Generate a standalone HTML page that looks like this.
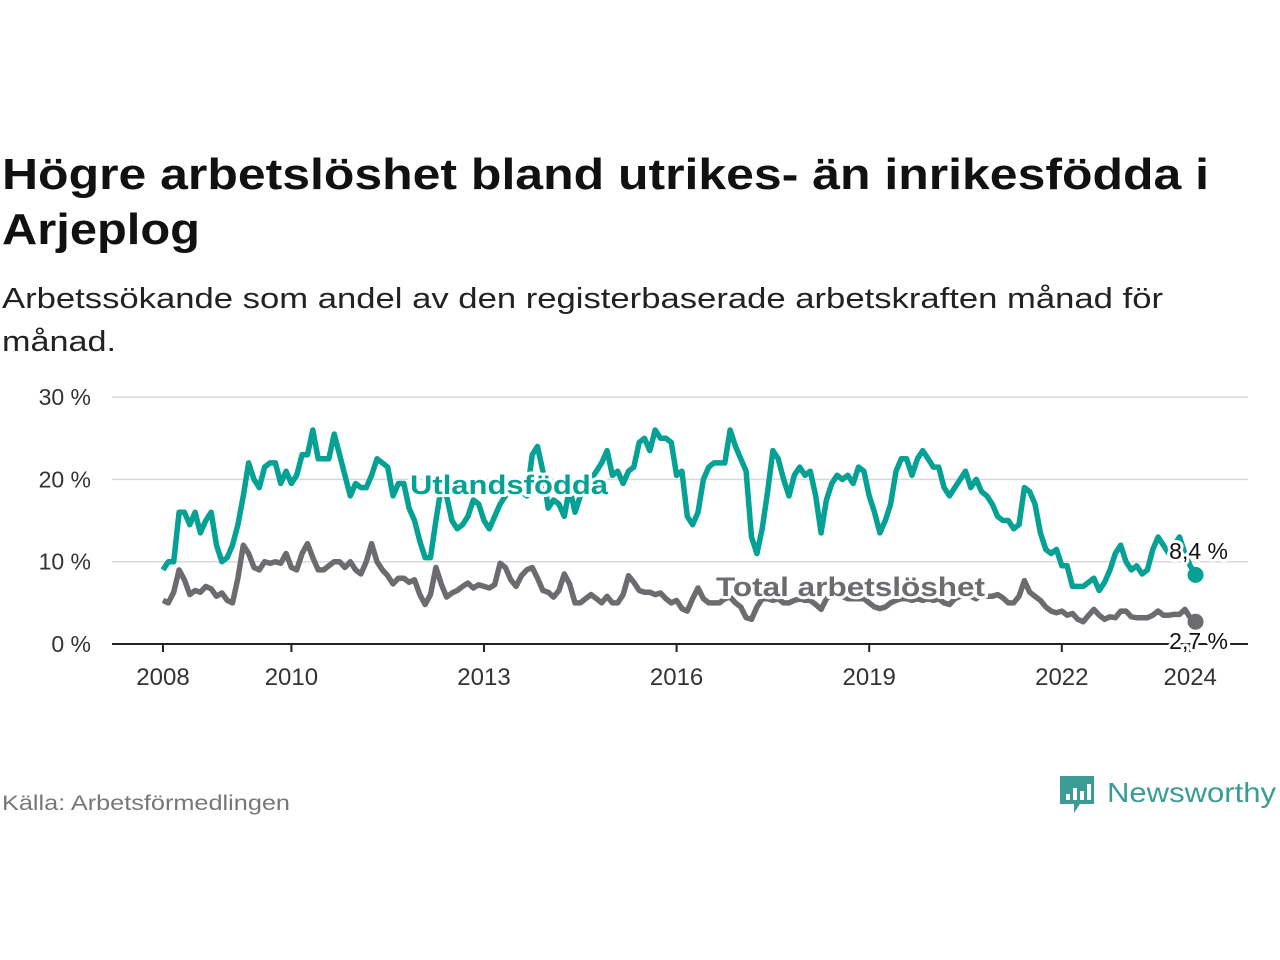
<!DOCTYPE html>
<html><head><meta charset="utf-8"><style>
body{margin:0;background:#fff;}
svg{display:block;font-family:"Liberation Sans","DejaVu Sans",sans-serif;}
</style></head><body>
<svg width="1280" height="960" viewBox="0 0 1280 960">
<text x="2" y="189" font-size="44" font-weight="bold" fill="#111" textLength="1207" lengthAdjust="spacingAndGlyphs">Högre arbetslöshet bland utrikes- än inrikesfödda i</text>
<text x="2" y="244" font-size="44" font-weight="bold" fill="#111" textLength="198" lengthAdjust="spacingAndGlyphs">Arjeplog</text>
<text x="2" y="308" font-size="29" fill="#222" textLength="1161" lengthAdjust="spacingAndGlyphs">Arbetssökande som andel av den registerbaserade arbetskraften månad för</text>
<text x="2" y="351" font-size="29" fill="#222" textLength="114" lengthAdjust="spacingAndGlyphs">månad.</text>
<g id="grid"></g>
<g id="yticks"></g>
<g id="xticks"></g>
<g id="series"></g>
<text x="2" y="810" font-size="21" fill="#777" textLength="288" lengthAdjust="spacingAndGlyphs">Källa: Arbetsförmedlingen</text>
<g>
<path d="M1060 776 h34 v28 h-14 l-6 9 v-9 h-14 z" fill="#3a9c94"/>
<rect x="1066" y="794" width="4" height="6" fill="#fff"/><rect x="1073" y="788" width="4" height="12" fill="#fff"/><rect x="1080" y="791" width="4" height="9" fill="#fff"/><rect x="1087" y="784" width="4" height="16" fill="#fff"/>
<text x="1107" y="802" font-size="28" fill="#3a9c94" textLength="169" lengthAdjust="spacingAndGlyphs">Newsworthy</text>
</g>
</svg>
<script>
const yTicks=[0,10,20,30];
const yTickLabels=["0 %","10 %","20 %","30 %"];
const xTicks=[2008,2010,2013,2016,2019,2022,2024];
const startYear=2008;
const foreign=[9,10,10,16,16,14.5,16,13.5,15,16,12,10,
10.5,12,14.5,18,22,20,19,21.5,22,22,19.5,21,
19.5,20.5,23,23,26,22.5,22.5,22.5,25.5,23,20.5,18,
19.5,19,19,20.5,22.5,22,21.5,18,19.5,19.5,16.5,15,
12.5,10.5,10.5,15,19,18,15,14,14.5,15.5,17.5,17,
15,14,15.5,17,18,19.5,19,18.5,18,23,24,21,
16.5,17.5,17,15.5,19,16,18,18.5,20,21,22,23.5,
20.5,21,19.5,21,21.5,24.5,25,23.5,26,25,25,24.5,
20.5,21,15.5,14.5,16,20,21.5,22,22,22,26,24,
22.5,21,13,11,14,18.5,23.5,22.5,20,18,20.5,21.5,
20.5,21,18,13.5,17.5,19.5,20.5,20,20.5,19.5,21.5,21,
18,16,13.5,15,17,21,22.5,22.5,20.5,22.5,23.5,22.5,
21.5,21.5,19,18,19,20,21,19,20,18.5,18,17,
15.5,15,15,14,14.5,19,18.5,17,13.5,11.5,11,11.5,
9.5,9.5,7,7,7,7.5,8,6.5,7.5,9,11,12,
10,9,9.5,8.5,9,11.5,13,12,11,12,13,11,
9.5,8.4];
const total=[5.3,5,6.3,9,7.8,6,6.5,6.3,7,6.7,5.8,6.2,
5.3,5,8,12,11,9.3,9,10,9.8,10,9.8,11,
9.3,9,11,12.2,10.5,9,9,9.5,10,10,9.3,10,
9,8.5,10,12.2,10,9,8.3,7.3,8,8,7.5,7.8,
6,4.8,6,9.3,7.3,5.7,6.2,6.5,7,7.4,6.8,7.2,
7,6.8,7.2,9.8,9.3,7.8,7,8.3,9,9.3,8,6.5,
6.3,5.7,6.5,8.5,7.3,5,5,5.5,6,5.5,5,5.8,
5,5,6,8.3,7.5,6.5,6.3,6.3,6,6.2,5.5,5,
5.3,4.3,4,5.5,6.8,5.5,5,5,5,5.5,5.7,5,
4.5,3.2,3,4.5,5.5,5.5,5.3,5.5,5,5,5.3,5.5,
5.3,5.3,4.8,4.2,5.5,6,6,5.8,5.5,5.5,5.5,5.5,
5,4.5,4.3,4.5,5,5.3,5.5,5.5,5.3,5.5,5.3,5.5,
5.3,5.5,5,4.8,5.5,5.8,6,5.8,5.5,6,5.8,5.8,
6,5.6,5,5,5.8,7.7,6.3,5.8,5.3,4.5,4,3.8,
4,3.5,3.7,3,2.7,3.5,4.2,3.5,3,3.3,3.2,4,
4,3.3,3.2,3.2,3.2,3.5,4,3.5,3.5,3.6,3.6,4.2,
3.2,2.7];
const NS="http://www.w3.org/2000/svg";
const X=t=>163+(t-startYear)*64.2;
const Y=v=>644-v*8.23;
const mk=(tag,attrs,parent)=>{const e=document.createElementNS(NS,tag);for(const k in attrs)e.setAttribute(k,attrs[k]);parent.appendChild(e);return e;};
const grid=document.getElementById('grid'),yt=document.getElementById('yticks'),xt=document.getElementById('xticks'),sg=document.getElementById('series');
yTicks.forEach((v,i)=>{
 if(v>0){const l=mk('line',{x1:112,x2:1248,y1:Y(v),y2:Y(v),stroke:'#d9d9d9','stroke-width':1.5},grid);
 
 }
 const t=mk('text',{x:91,y:Y(v)+8,'font-size':23,fill:'#333','text-anchor':'end'},yt);t.textContent=yTickLabels[i];
 
 
});
const ax=mk('line',{x1:112,x2:1248,y1:644,y2:644,stroke:'#222','stroke-width':2},xt);


xTicks.forEach(y=>{
 const tk=mk('line',{x1:X(y),x2:X(y),y1:644,y2:652,stroke:'#222','stroke-width':2},xt);
 
 
 const t=mk('text',{x:X(y),y:685,'font-size':24,fill:'#333','text-anchor':'middle'},xt);t.textContent=y;
 
 
});
function draw(arr,color,name){
 const d=arr.map((v,i)=>(i?'L':'M')+X(startYear+i/12).toFixed(1)+' '+Y(v).toFixed(1)).join(' ');
 const p=mk('path',{d:d,fill:'none',stroke:color,'stroke-width':5.5,'stroke-linejoin':'round'},sg);
 
 
 const n=arr.length-1;
 const c=mk('circle',{cx:X(startYear+n/12),cy:Y(arr[n]),r:8,fill:color},sg);
 
 
 return n;
}
const n1=draw(total,'#6d6b70','total');
const n2=draw(foreign,'#05a195','foreign');
function label(txt,x,y,color,bold,name,anchor,len){
 const a={x:x,y:y,'font-size':bold?27:23,'font-weight':bold?'bold':'normal',fill:color,stroke:'#fff','stroke-width':6,'paint-order':'stroke','stroke-linejoin':'round','text-anchor':anchor||'start'};
 if(len){a.textLength=len;a.lengthAdjust='spacingAndGlyphs';}
 const t=mk('text',a,sg);
 t.textContent=txt;
 
 
}
label('Utlandsfödda',410,494,'#05a195',true,'label-utlandsfodda',null,198);
label('Total arbetslöshet',716,596,'#6d6b70',true,'label-total',null,269);
label(String(foreign[n2]).replace('.',',')+' %',1228,559,'#111',false,'value-foreign','end');
label(String(total[n1]).replace('.',',')+' %',1228,649,'#111',false,'value-total','end');
</script>
</body></html>
